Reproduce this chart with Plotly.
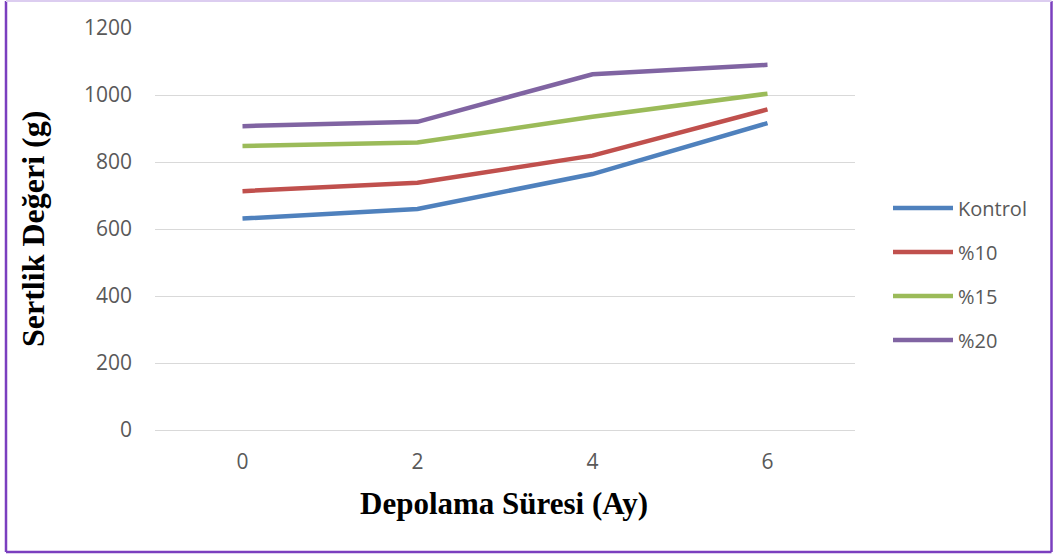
import plotly.graph_objects as go

# Storage time (months) and hardness values (g)
months = ["0", "2", "4", "6"]
kontrol = [631, 660, 764, 916]
pct10 = [713, 738, 819, 957]
pct15 = [848, 858, 935, 1004]
pct20 = [907, 920, 1062, 1090]

series = [
    ("Kontrol", kontrol, "#4F81BD"),
    ("%10", pct10, "#C0504D"),
    ("%15", pct15, "#9BBB59"),
    ("%20", pct20, "#8064A2"),
]

W, H = 1053, 555
L, R, T, B = 155, 198, 28, 125
PW, PH = W - L - R, H - T - B


def px(x):
    return (x - L) / PW


def py(y):
    return (H - B - y) / PH


fig = go.Figure()
for i, (name, vals, color) in enumerate(series):
    fig.add_trace(go.Scatter(
        x=months, y=vals, name=name, mode="lines",
        line=dict(color=color, width=4.5),
        legendgroup=f"g{i}",
    ))

tick_font = dict(family="Open Sans", size=21, color="#595959")

fig.update_layout(
    width=W, height=H,
    margin=dict(l=L, r=R, t=T, b=B, pad=0),
    paper_bgcolor="white", plot_bgcolor="white",
    showlegend=True,
    legend=dict(
        x=px(888), y=py(274), xanchor="left", yanchor="middle",
        font=dict(family="Open Sans", size=20, color="#595959"),
        tracegroupgap=15, itemwidth=60, bgcolor="rgba(0,0,0,0)",
    ),
    xaxis=dict(
        type="category", range=[-0.5, 3.5],
        showgrid=False, zeroline=False, showline=False,
        ticks="", tickfont=tick_font, ticklabelstandoff=17,
    ),
    yaxis=dict(
        range=[0, 1200], tickvals=[0, 200, 400, 600, 800, 1000, 1200],
        showgrid=True, gridcolor="#D9D9D9", gridwidth=1.3,
        zeroline=True, zerolinecolor="#D9D9D9", zerolinewidth=1.3,
        showline=False, ticks="", tickfont=tick_font, ticklabelstandoff=22,
    ),
    annotations=[
        dict(text="<b>Depolama Süresi (Ay)</b>", xref="paper", yref="paper",
             x=px(504), y=py(503), xanchor="center", yanchor="middle",
             showarrow=False,
             font=dict(family="Liberation Serif", size=31, color="#000000")),
        dict(text="<b>Sertlik Değeri (g)</b>", xref="paper", yref="paper",
             x=px(33), y=py(229), xanchor="center", yanchor="middle",
             textangle=-90, showarrow=False,
             font=dict(family="Liberation Serif", size=32, color="#000000")),
    ],
    shapes=[
        # figure frame
        dict(type="line", xref="paper", yref="paper", x0=px(6), x1=px(6),
             y0=py(1), y1=py(552), line=dict(color="#7B3FBF", width=2.5)),
        dict(type="line", xref="paper", yref="paper", x0=px(1051.5), x1=px(1051.5),
             y0=py(1), y1=py(552), line=dict(color="#7B3FBF", width=2.5)),
        dict(type="line", xref="paper", yref="paper", x0=px(6), x1=px(1051.5),
             y0=py(552), y1=py(552), line=dict(color="#7B3FBF", width=2.5)),
        dict(type="line", xref="paper", yref="paper", x0=px(6), x1=px(1051.5),
             y0=py(1), y1=py(1), line=dict(color="#DCCDF0", width=2)),
    ],
)

fig.write_html("out.html")
